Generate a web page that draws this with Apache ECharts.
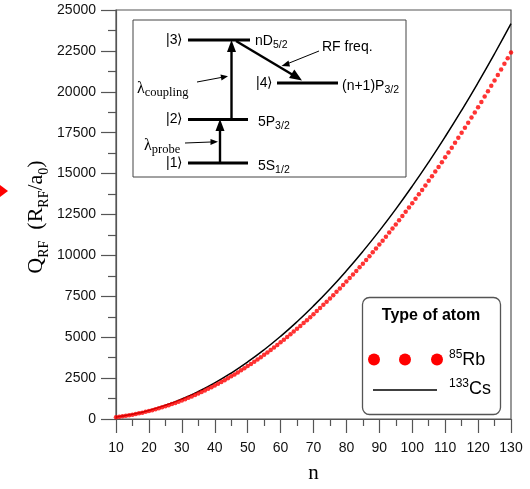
<!DOCTYPE html>
<html>
<head>
<meta charset="utf-8">
<script src="https://cdn.jsdelivr.net/npm/echarts@6/dist/echarts.min.js"></script>
<style>html,body{margin:0;padding:0;background:#fff}#c{width:530px;height:489px}</style>
</head>
<body>
<div id="c"></div>
<script>
// n values for Rb (every integer) and Cs (every 5)
var nRb = [];
for (var i = 10; i <= 130; i++) nRb.push(i);
var rbValues = [109,135,163,194,227,264,303,345,389,436,486,538,594,651,712,775,841,910,981,1055,
1132,1211,1294,1378,1466,1556,1649,1744,1843,1944,2047,2154,2263,2374,2489,2606,2726,2848,2973,3101,
3232,3365,3501,3640,3781,3925,4072,4221,4373,4528,4685,4846,5008,5174,5342,5513,5687,5863,6042,6224,
6408,6595,6785,6978,7173,7371,7571,7774,7980,8189,8400,8614,8831,9051,9273,9497,9725,9955,10188,10423,
10662,10903,11146,11393,11642,11893,12148,12405,12665,12927,13192,13460,13731,14004,14280,14558,14840,15124,15410,15700,
15992,16287,16584,16884,17187,17493,17801,18112,18425,18742,19061,19382,19707,20034,20364,20696,21031,21369,21710,22053,22399];
var nCs = [10,15,20,25,30,35,40,45,50,55,60,65,70,75,80,85,90,95,100,105,110,115,120,125,130];
var csValues = [118,285,524,836,1221,1679,2208,2811,3486,4234,5054,5947,6913,7951,9062,10245,11501,12830,14231,15705,17251,18870,20562,22326,24163];
var xTicks = [10,20,30,40,50,60,70,80,90,100,110,120,130];
var yTicks = [0,2500,5000,7500,10000,12500,15000,17500,20000,22500,25000];

var chart = echarts.init(document.getElementById('c'), null, {renderer:'canvas'});
var axisCol = '#555';
var sans = 'Arial, "Liberation Sans", sans-serif';
var serif = '"Times New Roman", "Liberation Serif", serif';

function pair(xs, ys){ return xs.map(function(x,i){return [x, ys[i]];}); }

function line(x1,y1,x2,y2,w){ return {type:'line', shape:{x1:x1,y1:y1,x2:x2,y2:y2}, style:{stroke:'#000', lineWidth:w}}; }
function poly(pts){ return {type:'polygon', shape:{points:pts}, style:{fill:'#000'}}; }
function txt(x,y,t,rich,extra){
  var s = {text:t, x:0, y:0, rich:rich, fill:'#000', verticalAlign:'middle', align:'left', font:'14px '+sans};
  if (extra) for (var k in extra) s[k]=extra[k];
  return {type:'text', x:x, y:y, style:s};
}
var richSans = {
  m:{fontSize:14, fontFamily:sans, verticalAlign:'bottom', lineHeight:16},
  s:{fontSize:10.5, fontFamily:sans, verticalAlign:'bottom', lineHeight:11, padding:[0,0,-3,0]}
};
var richL = {
  m:{fontSize:16, fontFamily:serif, verticalAlign:'bottom', lineHeight:17},
  s:{fontSize:12.5, fontFamily:serif, verticalAlign:'bottom', lineHeight:12, padding:[0,0,-3,0]}
};

var inset = [
  {type:'rect', shape:{x:133, y:20, width:273, height:157}, style:{fill:'#fff', stroke:'#444', lineWidth:1}},
  line(188,40,250,40,3.2), line(277,83,338,83,3.2), line(188,119.5,248,119.5,3.2), line(188,163,248,163,3.2),
  // probe arrow
  line(220,163,220,128,2.4), poly([[220,119],[215.5,131],[224.5,131]]),
  // coupling arrow
  line(231.5,119.5,231.5,48,2.4), poly([[231.5,40],[227,52],[236,52]]),
  // RF arrow
  line(236,41,293,75,2.4), poly([[302,80.5],[289.1,78.1],[294.3,69.5]]),
  // thin pointer arrows
  line(319,51,288,63.5,1), poly([[281.5,66],[288.5,60.5],[290,66.5]]),
  line(197,82,221,77.5,1), poly([[228,76.2],[220.5,74.5],[221.5,80.5]]),
  line(185,143,211,142,1), poly([[218,141.7],[210.5,139],[210.5,145]]),
  txt(166,40,'|3⟩',null),
  txt(166,119.5,'|2⟩',null),
  txt(166,163,'|1⟩',null),
  txt(256,83,'|4⟩',null),
  txt(255,40,'{m|nD}{s|5/2}',richSans),
  txt(258,121,'{m|5P}{s|3/2}',richSans),
  txt(258,165,'{m|5S}{s|1/2}',richSans),
  txt(342,85,'{m|(n+1)P}{s|3/2}',richSans),
  txt(322,47,'RF freq.',null),
  txt(137,88,'{m|λ}{s|coupling}',richL),
  txt(144,145,'{m|λ}{s|probe}',richL)
];

var legend = [
  {type:'rect', shape:{x:362.5, y:297.5, width:138, height:117, r:7}, style:{fill:'#fff', stroke:'#555', lineWidth:1.3}},
  {type:'text', x:431, y:316, style:{text:'Type of atom', font:'bold 16px '+sans, fill:'#000', align:'center', verticalAlign:'middle'}},
  {type:'circle', shape:{cx:374, cy:359.5, r:6}, style:{fill:'#ff0000'}},
  {type:'circle', shape:{cx:405, cy:359.5, r:6}, style:{fill:'#ff0000'}},
  {type:'circle', shape:{cx:437, cy:359.5, r:6}, style:{fill:'#ff0000'}},
  {type:'line', shape:{x1:373, y1:390, x2:437, y2:390}, style:{stroke:'#000', lineWidth:1.5}},
  {type:'text', x:449, y:359, style:{text:'{p|85}{b|Rb}', rich:{p:{fontSize:12,fontFamily:sans,verticalAlign:'top',padding:[0,0,8,0]}, b:{fontSize:18,fontFamily:sans,verticalAlign:'bottom'}}, fill:'#000', verticalAlign:'middle'}},
  {type:'text', x:449, y:388, style:{text:'{p|133}{b|Cs}', rich:{p:{fontSize:12,fontFamily:sans,verticalAlign:'top',padding:[0,0,8,0]}, b:{fontSize:18,fontFamily:sans,verticalAlign:'bottom'}}, fill:'#000', verticalAlign:'middle'}}
];

var yName = {type:'text', x:35, y:217, rotation:Math.PI/2, style:{
  text:'{m|Q}{s|RF}{m|  (R}{s|RF}{m|/a}{s|0}{m|)}',
  rich:{m:{fontSize:22,fontFamily:serif,verticalAlign:'bottom',lineHeight:24}, s:{fontSize:14,fontFamily:serif,verticalAlign:'bottom',lineHeight:14,padding:[0,0,-4,0]}},
  fill:'#000', align:'center', verticalAlign:'middle'}};

var redArrow = {type:'polygon', shape:{points:[[0,185],[8,191],[0,197]]}, style:{fill:'#ff0000'}};

chart.setOption({
  animation:false,
  backgroundColor:'#fff',
  grid:{left:116, right:19, top:10, bottom:62, show:true, borderColor:axisCol, borderWidth:1.2, backgroundColor:'transparent'},
  xAxis:{type:'value', min:10, max:130, interval:10,
    name:'n', nameLocation:'middle', nameGap:44, nameTextStyle:{fontFamily:serif, fontSize:21, color:'#000'},
    axisLine:{lineStyle:{color:axisCol, width:1.2}},
    axisTick:{show:true, inside:false, length:14, lineStyle:{color:axisCol, width:1.2}},
    minorTick:{show:true, splitNumber:2, length:7, lineStyle:{color:axisCol, width:1.2}},
    splitLine:{show:false},
    axisLabel:{fontFamily:sans, fontSize:14, color:'#111', margin:22, formatter:function(v){return String(v);}}
  },
  yAxis:{type:'value', min:0, max:25000, interval:2500,
    axisLine:{show:true, lineStyle:{color:axisCol, width:1.2}},
    axisTick:{show:true, inside:false, length:15, lineStyle:{color:axisCol, width:1.2}},
    minorTick:{show:true, splitNumber:2, length:8, lineStyle:{color:axisCol, width:1.2}},
    splitLine:{show:false},
    axisLabel:{fontFamily:sans, fontSize:14, color:'#111', margin:20, formatter:function(v){return String(v);}}
  },
  series:[
    {type:'line', data:pair(nCs, csValues), smooth:true, showSymbol:false, lineStyle:{color:'#000', width:1.5}, z:2},
    {type:'scatter', data:pair(nRb, rbValues), symbol:'circle', symbolSize:4.5, itemStyle:{color:'#ff0000'}, z:3}
  ],
  graphic:[].concat(inset, legend, [yName, redArrow])
});
</script>
</body>
</html>
